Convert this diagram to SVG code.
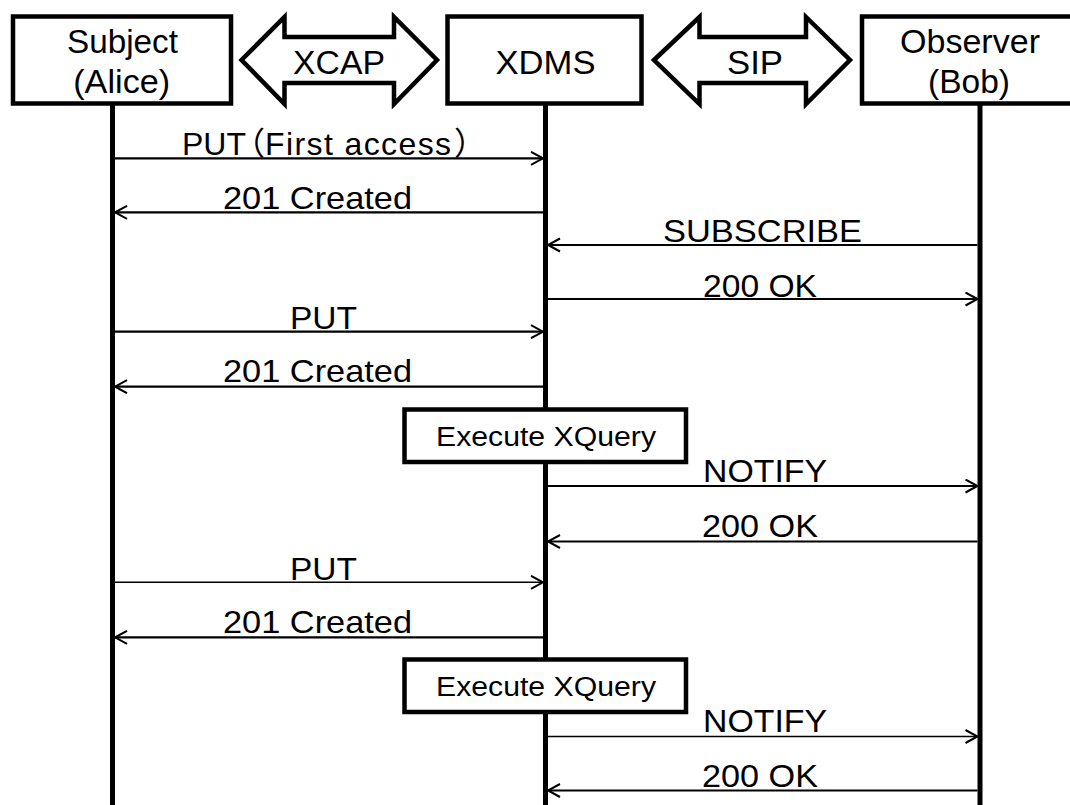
<svg xmlns="http://www.w3.org/2000/svg" width="1070" height="805" viewBox="0 0 1070 805">
  <style>
    .box { fill: #fff; stroke: #000; stroke-width: 4.5; }
    .life { stroke: #000; stroke-width: 5; fill: none; }
    .msg { stroke: #000; stroke-width: 2.2; fill: none; marker-end: url(#head); }
    .msg.thin { stroke-width: 1.5; }
    .big { stroke: #000; stroke-width: 4.5; fill: #fff; stroke-linejoin: miter; }
    text { font-family: "Liberation Sans", Arial, "Noto Sans CJK JP", sans-serif; fill: #000; text-anchor: middle; }
    .hd { font-size: 33px; }
    .lb { font-size: 32px; }
    .ex { font-size: 27px; }
    .start { text-anchor: start; }
  </style>
  <defs>
    <marker id="head" markerUnits="userSpaceOnUse" markerWidth="16" markerHeight="18" refX="13" refY="7.5" orient="auto">
      <path d="M1,1 L13,7.5 L1,14" fill="none" stroke="#000" stroke-width="2"/>
    </marker>
  </defs>

  <!-- lifelines -->
  <g id="lifelines">
    <line class="life" x1="112.5" y1="104" x2="112.5" y2="805"/>
    <line class="life" x1="545.5" y1="104" x2="545.5" y2="805"/>
    <line class="life" x1="980" y1="104" x2="980" y2="805"/>
  </g>

  <!-- participants -->
  <g id="subject">
    <rect class="box" x="13" y="16.5" width="218" height="87"/>
    <text class="hd" x="122.5" y="52.5" textLength="111" lengthAdjust="spacingAndGlyphs">Subject</text>
    <text class="hd" x="121.7" y="93" textLength="97" lengthAdjust="spacingAndGlyphs">(Alice)</text>
  </g>
  <g id="xdms">
    <rect class="box" x="447.5" y="16.5" width="194" height="87"/>
    <text class="hd" x="545.5" y="74" textLength="100" lengthAdjust="spacingAndGlyphs">XDMS</text>
  </g>
  <g id="observer">
    <rect class="box" x="862" y="16.5" width="218" height="87"/>
    <text class="hd" x="970" y="52.5" textLength="140" lengthAdjust="spacingAndGlyphs">Observer</text>
    <text class="hd" x="969" y="93" textLength="82" lengthAdjust="spacingAndGlyphs">(Bob)</text>
  </g>

  <!-- protocol double arrows -->
  <g id="xcap">
    <polygon class="big" points="241.5,60 284.5,17 284.5,37 394,37 394,17 437,60 394,104 394,83 284.5,83 284.5,104"/>
    <text class="hd" x="339" y="74" textLength="92" lengthAdjust="spacingAndGlyphs">XCAP</text>
  </g>
  <g id="sip">
    <polygon class="big" points="654,60 699.5,17 699.5,37 806,37 806,17 850,60 806,104 806,83 699.5,83 699.5,104"/>
    <text class="hd" x="755" y="74" textLength="56" lengthAdjust="spacingAndGlyphs">SIP</text>
  </g>

  <!-- processing steps on the XDMS lifeline -->
  <g id="xquery1">
    <rect class="box" x="404.5" y="409.5" width="281.5" height="52.5"/>
    <text class="ex" x="546" y="446" textLength="220" lengthAdjust="spacingAndGlyphs">Execute XQuery</text>
  </g>
  <g id="xquery2">
    <rect class="box" x="404.5" y="659.5" width="281.5" height="52.5"/>
    <text class="ex" x="546" y="696" textLength="220" lengthAdjust="spacingAndGlyphs">Execute XQuery</text>
  </g>

  <!-- messages -->
  <g id="connectors">
    <line class="msg" x1="115" y1="158.3" x2="543" y2="158.3"/>
    <line class="msg" x1="543" y1="212.3" x2="115" y2="212.3"/>
    <line class="msg" x1="977.5" y1="245" x2="548" y2="245"/>
    <line class="msg" x1="548" y1="299" x2="977.5" y2="299"/>
    <line class="msg" x1="115" y1="331.7" x2="543" y2="331.7"/>
    <line class="msg" x1="543" y1="386.7" x2="115" y2="386.7"/>
    <line class="msg" x1="548" y1="486" x2="977.5" y2="486"/>
    <line class="msg" x1="977.5" y1="541.5" x2="548" y2="541.5"/>
    <line class="msg thin" x1="115" y1="582.3" x2="543" y2="582.3"/>
    <line class="msg" x1="543" y1="637.3" x2="115" y2="637.3"/>
    <line class="msg thin" x1="548" y1="736.5" x2="977.5" y2="736.5"/>
    <line class="msg" x1="977.5" y1="790.5" x2="548" y2="790.5"/>
  </g>

  <g id="labels">
    <text class="lb start" x="182" y="155" dx="0 0 0 -13 0 1.4 1.4 1.4 1.4 1.4 1.4 1.4 1.4 1.4 1.4 1.4 3">PUT（First access）</text>
    <text class="lb" x="317.5" y="209" textLength="189" lengthAdjust="spacingAndGlyphs">201 Created</text>
    <text class="lb" x="762.5" y="242" textLength="199" lengthAdjust="spacingAndGlyphs">SUBSCRIBE</text>
    <text class="lb" x="760" y="297" textLength="114" lengthAdjust="spacingAndGlyphs">200 OK</text>
    <text class="lb" x="323.5" y="328.5" textLength="67" lengthAdjust="spacingAndGlyphs">PUT</text>
    <text class="lb" x="317.5" y="382" textLength="189" lengthAdjust="spacingAndGlyphs">201 Created</text>
    <text class="lb" x="765" y="482" textLength="124" lengthAdjust="spacingAndGlyphs">NOTIFY</text>
    <text class="lb" x="760" y="537" textLength="116" lengthAdjust="spacingAndGlyphs">200 OK</text>
    <text class="lb" x="323.5" y="580" textLength="67" lengthAdjust="spacingAndGlyphs">PUT</text>
    <text class="lb" x="317.5" y="633" textLength="189" lengthAdjust="spacingAndGlyphs">201 Created</text>
    <text class="lb" x="765" y="732" textLength="124" lengthAdjust="spacingAndGlyphs">NOTIFY</text>
    <text class="lb" x="760" y="787" textLength="116" lengthAdjust="spacingAndGlyphs">200 OK</text>
  </g>
</svg>
